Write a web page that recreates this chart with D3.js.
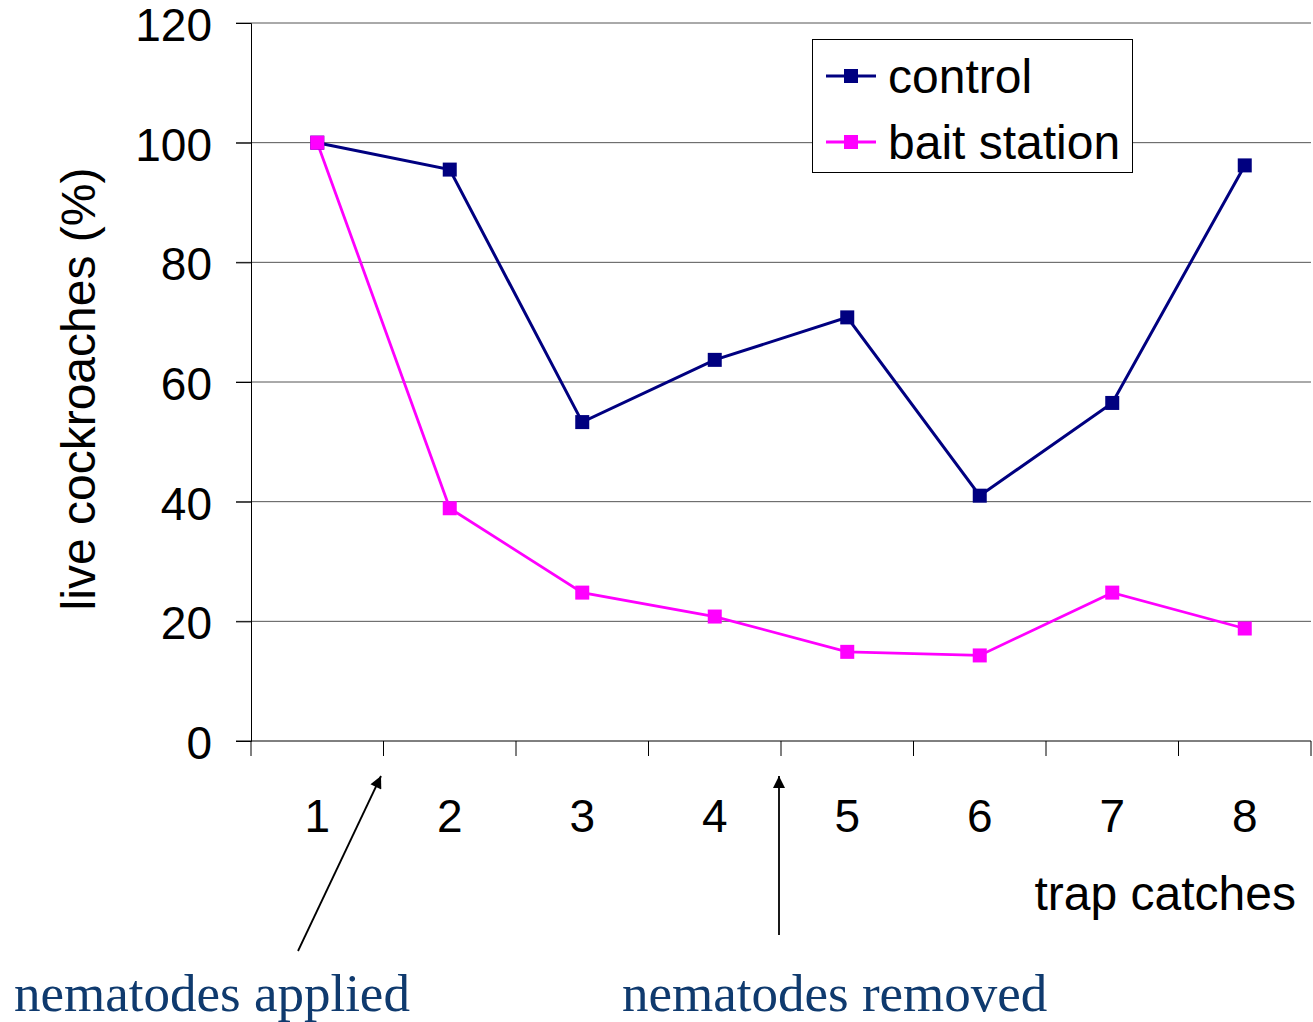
<!DOCTYPE html>
<html>
<head>
<meta charset="utf-8">
<script src="https://cdn.jsdelivr.net/npm/d3@7"></script>
<style>
  body { margin: 0; background: #fff; }
</style>
</head>
<body>
<div id="chart"></div>
<script>
const categories = ["1", "2", "3", "4", "5", "6", "7", "8"];
const control = [100, 95.5, 53.3, 63.7, 70.8, 41.0, 56.5, 96.2];
const baitStation = [100, 38.9, 24.8, 20.8, 14.9, 14.3, 24.8, 18.8];
const yTicks = [0, 20, 40, 60, 80, 100, 120];

const width = 1313;
const height = 1022;
const margin = { top: 23, right: 2, bottom: 281, left: 251 };
const sans = "Liberation Sans, Arial, sans-serif";
const serif = "Liberation Serif, Times New Roman, serif";

const svg = d3.select("#chart")
    .append("svg")
    .attr("width", width)
    .attr("height", height)
    .style("font-family", sans);

const x = d3.scaleBand()
    .domain(categories)
    .range([margin.left, width - margin.right]);

const y = d3.scaleLinear()
    .domain([0, 120])
    .range([height - margin.bottom, margin.top]);

// gridlines
svg.append("g")
    .selectAll("line")
    .data(yTicks.filter(d => d > 0))
    .join("line")
    .attr("x1", margin.left - 15)
    .attr("x2", width - margin.right)
    .attr("y1", d => y(d))
    .attr("y2", d => y(d))
    .attr("stroke", "#555")
    .attr("stroke-width", 1);

// y axis
const yAxis = svg.append("g")
    .attr("transform", `translate(${margin.left},0)`)
    .call(d3.axisLeft(y).tickValues(yTicks).tickSize(15).tickPadding(24));
yAxis.selectAll("text")
    .attr("fill", "#000")
    .attr("dy", "0.38em")
    .style("font-size", "46px")
    .style("font-family", sans);
yAxis.selectAll("line").attr("stroke", "#000");
yAxis.select(".domain").attr("stroke", "#000");

// x axis: ticks at category boundaries
const xAxisY = y(0);
svg.append("line")
    .attr("x1", margin.left - 15)
    .attr("x2", width - margin.right)
    .attr("y1", xAxisY)
    .attr("y2", xAxisY)
    .attr("stroke", "#000");
const boundaries = categories.map(c => x(c)).concat([x(categories[categories.length - 1]) + x.bandwidth()]);
svg.append("g")
    .selectAll("line")
    .data(boundaries)
    .join("line")
    .attr("x1", d => d)
    .attr("x2", d => d)
    .attr("y1", xAxisY)
    .attr("y2", xAxisY + 15)
    .attr("stroke", "#000");
svg.append("g")
    .selectAll("text")
    .data(categories)
    .join("text")
    .attr("x", d => x(d) + x.bandwidth() / 2)
    .attr("y", xAxisY + 91)
    .attr("text-anchor", "middle")
    .style("font-size", "46px")
    .text(d => d);

// series
const series = [
    { name: "control", values: control, color: "#000080", width: 3 },
    { name: "bait station", values: baitStation, color: "#ff00ff", width: 2.8 }
];
const line = d3.line()
    .x((d, i) => x(categories[i]) + x.bandwidth() / 2)
    .y(d => y(d));

series.slice().reverse().forEach(s => {
    svg.append("path")
        .datum(s.values)
        .attr("fill", "none")
        .attr("stroke", s.color)
        .attr("stroke-width", s.width)
        .attr("d", line);
});
series.forEach(s => {
    svg.append("g")
        .selectAll("rect")
        .data(s.values)
        .join("rect")
        .attr("x", (d, i) => x(categories[i]) + x.bandwidth() / 2 - 7)
        .attr("y", d => y(d) - 7)
        .attr("width", 14)
        .attr("height", 14)
        .attr("fill", s.color);
});

// legend
const legend = svg.append("g");
legend.append("rect")
    .attr("x", 812.5)
    .attr("y", 39.5)
    .attr("width", 320)
    .attr("height", 133)
    .attr("fill", "#fff")
    .attr("stroke", "#000")
    .attr("stroke-width", 1);
series.forEach((s, i) => {
    const ly = 76 + i * 66;
    legend.append("line")
        .attr("x1", 826).attr("x2", 876)
        .attr("y1", ly).attr("y2", ly)
        .attr("stroke", s.color)
        .attr("stroke-width", 3);
    legend.append("rect")
        .attr("x", 844).attr("y", ly - 7)
        .attr("width", 14).attr("height", 14)
        .attr("fill", s.color);
    legend.append("text")
        .attr("x", 888)
        .attr("y", ly + 17)
        .style("font-size", "48px")
        .text(s.name);
});

// axis titles
svg.append("text")
    .attr("transform", "rotate(-90)")
    .attr("x", -389)
    .attr("y", 95)
    .attr("text-anchor", "middle")
    .style("font-size", "48px")
    .text("live cockroaches (%)");

svg.append("text")
    .attr("x", 1296)
    .attr("y", 910)
    .attr("text-anchor", "end")
    .style("font-size", "48px")
    .text("trap catches");

// annotations
svg.append("defs").append("marker")
    .attr("id", "arrow")
    .attr("viewBox", "0 0 10 10")
    .attr("refX", 10)
    .attr("refY", 5)
    .attr("markerWidth", 15)
    .attr("markerHeight", 12)
    .attr("markerUnits", "userSpaceOnUse")
    .attr("orient", "auto")
    .append("path")
    .attr("d", "M0,0 L10,5 L0,10 Z")
    .attr("fill", "#000");

const arrows = [
    { x1: 298, y1: 951, x2: 381, y2: 776 },
    { x1: 779, y1: 935, x2: 779, y2: 776 }
];
svg.append("g")
    .selectAll("line")
    .data(arrows)
    .join("line")
    .attr("x1", d => d.x1).attr("y1", d => d.y1)
    .attr("x2", d => d.x2).attr("y2", d => d.y2)
    .attr("stroke", "#000")
    .attr("stroke-width", 1.8)
    .attr("marker-end", "url(#arrow)");

const notes = [
    { text: "nematodes applied", x: 14 },
    { text: "nematodes removed", x: 622 }
];
svg.append("g")
    .selectAll("text")
    .data(notes)
    .join("text")
    .attr("x", d => d.x)
    .attr("y", 1011)
    .style("font-size", "53px")
    .style("font-family", serif)
    .attr("fill", "#0f3a6e")
    .text(d => d.text);
</script>
</body>
</html>
